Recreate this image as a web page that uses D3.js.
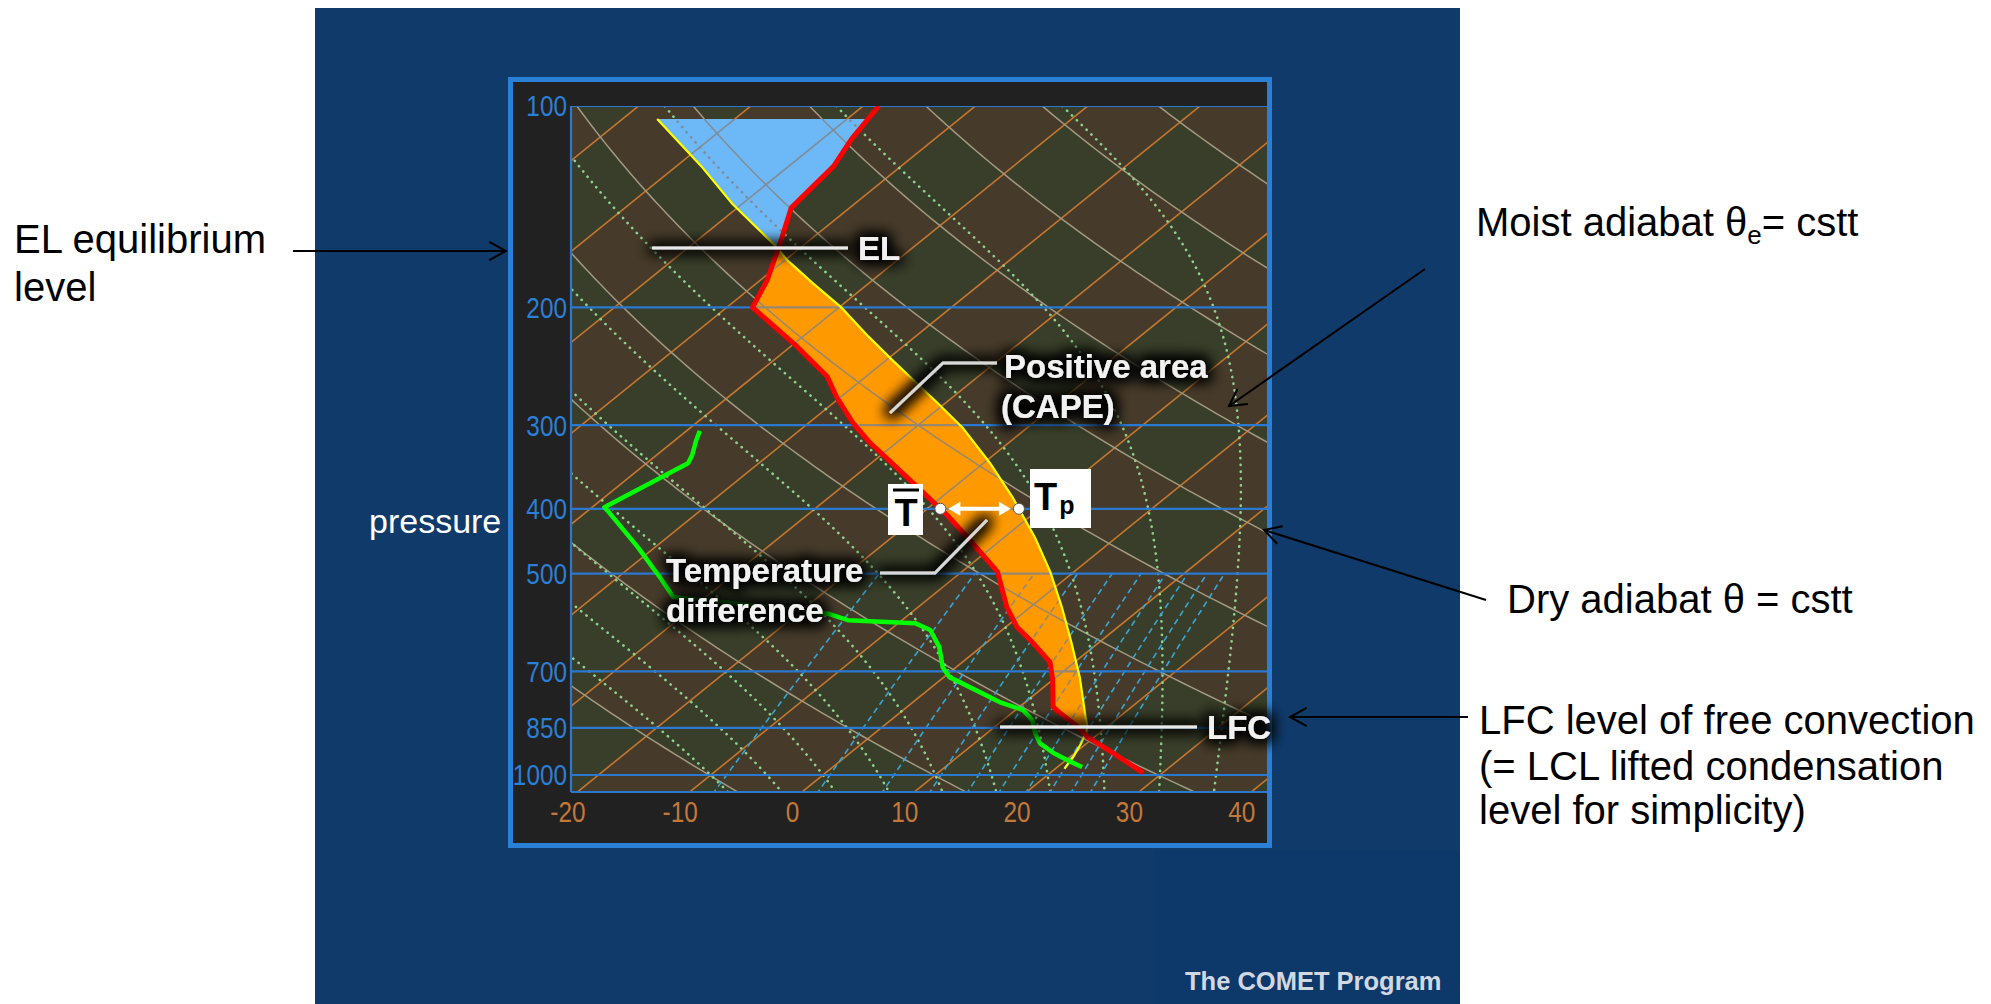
<!DOCTYPE html>
<html><head><meta charset="utf-8">
<script src="https://cdn.jsdelivr.net/npm/d3@7"></script>
<style>
html,body{margin:0;padding:0;background:#fff;}
svg{display:block;font-family:"Liberation Sans",Arial,sans-serif;}
</style></head><body>
<svg id="chart" width="1991" height="1004"></svg>
<script>
// ---------------- data ----------------
const pressureTicks = [100, 200, 300, 400, 500, 700, 850, 1000];
const tempTicks = [-20, -10, 0, 10, 20, 30, 40];
const isotherms = [-110,-100,-90,-80,-70,-60,-50,-40,-30,-20,-10,0,10,20,30,40,50];
const dryThetas = [243,263,283,303,323,343,363,383,403,423,443,463,483];
const moistThetaW = [-10,-5,0,5,10,15,20,25,30,35,40];
const mixRatios = [2,4,6,8,10,12,14,16,18,20];

// environmental temperature (red)
const envP = [100,112,123,142,159,182,200,209,229,254,272,298,319,348,385,409,450,497,561,601,635,678,721,791,808,851,878,927,993];
const envT = [-68.6,-67.4,-66.0,-65.2,-62.5,-59.4,-57.7,-55.0,-49.4,-43.4,-40.4,-36.0,-32.3,-27.1,-21.1,-17.5,-12.2,-6.8,-2.1,1.0,4.2,7.8,10.0,13.0,14.3,17.7,19.4,23.4,28.3];
// lifted parcel (yellow)
const parcelP = [104.6,123,140,162.5,170,184,200,221,240,278,303,342,385,442,497,561,633,714,819,848,896,940,978];
const parcelT = [-86.9,-77.8,-70.9,-62.2,-59.8,-55.0,-49.8,-44.2,-39.4,-30.7,-25.7,-19.4,-13.6,-7.2,-2.1,2.8,7.5,12.1,17.0,18.3,19.5,20.3,20.8];
// dewpoint (green)
const dewP = [306,316,333,342,398,406,456,506,542,574,587,593,607,644,690,714,739,778,800,828,866,896,927,950,973];
const dewT = [-48.8,-48.1,-46.8,-46.3,-48.9,-47.8,-41.6,-36.3,-32.9,-17.3,-14.8,-8.5,-6.4,-3.7,-1.2,0.5,3.4,7.7,10.7,12.6,14.3,15.8,18.1,20.1,22.2];

const elP = 163, lfcP = 848, topAreaP = 104.6, diffP = 400;

// ---------------- geometry ----------------
const PL = 571, PR = 1267, PT = 106, PB = 792;
const yScale = d3.scaleLog().domain([100, 1000]).range([106, 775]);
const xScale = d3.scaleLinear().domain([-20, 40]).range([577.4, 1251.2]); // temperature along bottom edge
const SKEW = 1.235;
const px = (T, p) => xScale(T) + SKEW * (PB - yScale(p));
const py = p => yScale(p);

const svg = d3.select('#chart');
const defs = svg.append('defs');

// glow filter
const f = defs.append('filter').attr('id','glow').attr('x','-40%').attr('y','-60%').attr('width','180%').attr('height','220%');
f.append('feMorphology').attr('in','SourceAlpha').attr('operator','dilate').attr('radius',3).attr('result','d');
f.append('feGaussianBlur').attr('in','d').attr('stdDeviation',7).attr('result','b');
f.append('feFlood').attr('flood-color','#000').attr('flood-opacity',0.95);
f.append('feComposite').attr('in2','b').attr('operator','in').attr('result','s');
const fm = f.append('feMerge');
fm.append('feMergeNode').attr('in','s');
fm.append('feMergeNode').attr('in','s');
fm.append('feMergeNode').attr('in','SourceGraphic');

defs.append('clipPath').attr('id','plotClip').append('rect')
  .attr('x',PL).attr('y',PT).attr('width',PR-PL).attr('height',PB-PT);

// ---------------- page background ----------------
svg.append('rect').attr('x',0).attr('y',0).attr('width',1991).attr('height',1004).attr('fill','#ffffff');
svg.append('rect').attr('x',315).attr('y',8).attr('width',1145).attr('height',996).attr('fill','#0f3a6a');
svg.append('rect').attr('x',1153).attr('y',850).attr('width',307).attr('height',154).attr('fill','#0d386a');

// frame
svg.append('rect').attr('x',510.5).attr('y',79.5).attr('width',759).attr('height',766)
  .attr('fill','#212121').attr('stroke','#2a7fd6').attr('stroke-width',5);

// ---------------- checkerboard background (canvas) ----------------
(function(){
  const w = PR-PL, h = PB-PT;
  const cv = document.createElement('canvas'); cv.width=w; cv.height=h;
  const ctx = cv.getContext('2d');
  const img = ctx.createImageData(w,h);
  const olive=[56,62,41], brown=[70,59,42];
  for (let j=0;j<h;j++){
    const y = PT + j + 0.5;
    const p = yScale.invert(y);
    const fac = Math.pow(p/1000, 0.2857);
    const shift = SKEW*(PB-y);
    for (let i=0;i<w;i++){
      const x = PL + i + 0.5;
      const T = xScale.invert(x - shift);
      const th = (T+273.15)/fac;
      const a = Math.floor(T/10), b = Math.floor((th-263)/20);
      const c = (((a+b)%2)+2)%2 === 0 ? olive : brown;
      const k = (j*w+i)*4;
      img.data[k]=c[0]; img.data[k+1]=c[1]; img.data[k+2]=c[2]; img.data[k+3]=255;
    }
  }
  ctx.putImageData(img,0,0);
  svg.append('image').attr('x',PL).attr('y',PT).attr('width',w).attr('height',h)
    .attr('href', cv.toDataURL());
})();

// ---------------- grid line geometry ----------------
const line = d3.line().x(d=>d[0]).y(d=>d[1]);
const logPs = (p0,p1,n) => d3.range(n+1).map(i => p0*Math.pow(p1/p0, i/n));

function satMix(T,p){ const es = 6.112*Math.exp(17.67*(T-273.15)/(T-29.65)); return 0.622*es/(p-es); }
function dTdp(T,p){
  const rs = satMix(T,p), Lv=2.501e6, Rd=287.04, Cp=1005.7, eps=0.622;
  return (1/p)*(Rd*T + Lv*rs)/(Cp + (Lv*Lv*rs*eps)/(Rd*T*T));
}
function moistCurve(tw){
  const up=[]; let T=tw+273.15, p=1000;
  while (p>100){ up.push([p,T]); const h=-2; const k1=dTdp(T,p); const k2=dTdp(T+0.5*h*k1,p+0.5*h); T+=h*k2; p+=h; }
  up.push([p,T]);
  const down=[]; T=tw+273.15; p=1000;
  while (p<1064){ const h=2; const k1=dTdp(T,p); const k2=dTdp(T+0.5*h*k1,p+0.5*h); T+=h*k2; p+=h; down.push([p,T]); }
  return up.reverse().concat(down).map(d=>[px(d[1]-273.15,d[0]), py(d[0])]);
}
const isoLines = isotherms.map(T => [[px(T,1070),py(1070)],[px(T,95),py(95)]]);
const dryLines = dryThetas.map(th => logPs(1070,95,120).map(p => [px(th*Math.pow(p/1000,0.2857)-273.15,p), py(p)]));
const moistLines = moistThetaW.map(moistCurve);
const mixLines = mixRatios.map(w => logPs(1070,500,60).map(p => {
  const e = w*p/(622+w); const l = Math.log(e/6.112); const Td = 243.5*l/(17.67-l);
  return [px(Td,p), py(p)];
}));

function drawGrid(g, gray){
  g.selectAll('.iso').data(isoLines).join('path').attr('d',line)
    .attr('fill','none').attr('stroke', gray||'#c6772f').attr('stroke-width',1.6);
  g.selectAll('.dry').data(dryLines).join('path').attr('d',line)
    .attr('fill','none').attr('stroke', gray||'#a39880').attr('stroke-width',1.5);
  g.append('g').selectAll('path').data(moistLines).join('path').attr('d',line)
    .attr('fill','none').attr('stroke', gray||'#8ed28e').attr('stroke-width',2.6)
    .attr('stroke-linecap','round').attr('stroke-dasharray','0.2,6.6');
  g.append('g').selectAll('path').data(mixLines).join('path').attr('d',line)
    .attr('fill','none').attr('stroke', gray||'#38a6d4').attr('stroke-width',1.6)
    .attr('stroke-dasharray','6,4');
  g.append('g').selectAll('line').data(pressureTicks).join('line')
    .attr('x1',PL).attr('x2',PR).attr('y1',d=>py(d)).attr('y2',d=>py(d))
    .attr('stroke', gray||'#2a78d0').attr('stroke-width',2.2);
}
const gridG = svg.append('g').attr('clip-path','url(#plotClip)');
drawGrid(gridG.append('g'), null);

// ---------------- filled areas ----------------
function interpT(P,T,p){
  for (let i=0;i<P.length-1;i++){
    const a=P[i], b=P[i+1];
    if ((p>=a && p<=b) || (p<=a && p>=b)){
      const t = (Math.log(p)-Math.log(a))/(Math.log(b)-Math.log(a));
      return T[i]+t*(T[i+1]-T[i]);
    }
  }
  return p<P[0]?T[0]:T[T.length-1];
}
const toXY = (p,T) => [px(T,p), py(p)];
const envPts = envP.map((p,i)=>[p,envT[i]]);
const parPts = parcelP.map((p,i)=>[p,parcelT[i]]);

const posPoly = [toXY(elP, interpT(envP,envT,elP))]
  .concat(envPts.filter(d=>d[0]>elP && d[0]<lfcP).map(d=>toXY(d[0],d[1])))
  .concat([toXY(lfcP, interpT(envP,envT,lfcP)), toXY(lfcP, interpT(parcelP,parcelT,lfcP))])
  .concat(parPts.filter(d=>d[0]>elP && d[0]<lfcP).reverse().map(d=>toXY(d[0],d[1])))
  .concat([toXY(elP, interpT(parcelP,parcelT,elP))]);
const negPoly = parPts.filter(d=>d[0]<=elP).map(d=>toXY(d[0],d[1]))
  .concat([toXY(elP, interpT(parcelP,parcelT,elP)), toXY(elP, interpT(envP,envT,elP))])
  .concat(envPts.filter(d=>d[0]>topAreaP && d[0]<elP).reverse().map(d=>toXY(d[0],d[1])))
  .concat([toXY(topAreaP, interpT(envP,envT,topAreaP))]);

const areaLine = d3.line().x(d=>d[0]).y(d=>d[1]).curve(d3.curveLinearClosed);
svg.append('path').attr('d',areaLine(posPoly)).attr('fill','#ff9900');
svg.append('path').attr('d',areaLine(negPoly)).attr('fill','#6db8f6');

const fc = defs.append('clipPath').attr('id','fillClip');
fc.append('path').attr('d',areaLine(posPoly));
fc.append('path').attr('d',areaLine(negPoly));
const grayG = svg.append('g').attr('clip-path','url(#fillClip)').attr('opacity',0.85);
drawGrid(grayG.append('g'), '#858585');

// plot border
svg.append('line').attr('x1',PL).attr('x2',PL).attr('y1',PT).attr('y2',PB).attr('stroke','#2a78d0').attr('stroke-width',2.2);
svg.append('line').attr('x1',PL).attr('x2',PR).attr('y1',PB).attr('y2',PB).attr('stroke','#2a78d0').attr('stroke-width',2.2);

// ---------------- profiles ----------------
const profLine = d3.line().x(d=>px(d[1],d[0])).y(d=>py(d[0]));
const profG = svg.append('g').attr('clip-path','url(#plotClip)');
profG.append('path').attr('d',profLine(parPts)).attr('fill','none').attr('stroke','#ffff00').attr('stroke-width',2.2);
profG.append('path').attr('d',profLine(dewP.map((p,i)=>[p,dewT[i]]))).attr('fill','none')
  .attr('stroke','#00ff00').attr('stroke-width',4.5).attr('stroke-linejoin','round');
profG.append('path').attr('d',profLine(envPts)).attr('fill','none')
  .attr('stroke','#ff0000').attr('stroke-width',5).attr('stroke-linejoin','round');

// ---------------- axes labels ----------------
const pl = svg.append('g');
pressureTicks.forEach(p=>{
  pl.append('g').attr('transform',`translate(567,${py(p)}) scale(0.84,1)`)
    .append('text').attr('text-anchor','end').attr('dy','0.36em')
    .attr('font-size',29).attr('fill','#2c7fd6').text(p);
});
tempTicks.forEach(T=>{
  pl.append('g').attr('transform',`translate(${xScale(T)-9.5},822) scale(0.84,1)`)
    .append('text').attr('text-anchor','middle')
    .attr('font-size',29).attr('fill','#c47838').text(T);
});

// ---------------- annotations inside ----------------
const ann = svg.append('g').attr('filter','url(#glow)');
const annColor = '#e8e8e8';
const elY = py(elP), lfcY = py(lfcP);
ann.append('line').attr('x1',652).attr('x2',848).attr('y1',elY).attr('y2',elY).attr('stroke',annColor).attr('stroke-width',3);
ann.append('text').attr('x',858).attr('y',elY+12).attr('font-size',33).attr('font-weight','bold').attr('fill','#f2f2f2').text('EL');
ann.append('line').attr('x1',1000).attr('x2',1197).attr('y1',lfcY).attr('y2',lfcY).attr('stroke',annColor).attr('stroke-width',3);
ann.append('text').attr('x',1207).attr('y',lfcY+12).attr('font-size',33).attr('font-weight','bold').attr('fill','#f2f2f2').text('LFC');
ann.append('polyline').attr('points','997,363 943,363 890,413').attr('fill','none').attr('stroke','#d8d8d8').attr('stroke-width',3);
ann.append('text').attr('x',1004).attr('y',378).attr('font-size',33).attr('font-weight','bold').attr('fill','#f2f2f2').text('Positive area');
ann.append('text').attr('x',1001).attr('y',418).attr('font-size',33).attr('font-weight','bold').attr('fill','#f2f2f2').text('(CAPE)');
ann.append('polyline').attr('points','880,573 935,573 987,520').attr('fill','none').attr('stroke','#d8d8d8').attr('stroke-width',3);
ann.append('text').attr('x',666).attr('y',582).attr('font-size',33).attr('font-weight','bold').attr('fill','#f2f2f2').text('Temperature');
ann.append('text').attr('x',666).attr('y',622).attr('font-size',33).attr('font-weight','bold').attr('fill','#f2f2f2').text('difference');

// temperature difference arrow at 400 hPa
const yD = py(diffP);
const xTbar = px(interpT(envP,envT,diffP), diffP), xTp = px(interpT(parcelP,parcelT,diffP), diffP);
svg.append('line').attr('x1',xTbar+14).attr('x2',xTp-14).attr('y1',yD).attr('y2',yD).attr('stroke','#ffffff').attr('stroke-width',4);
svg.append('path').attr('d',`M${xTbar+8},${yD} L${xTbar+20},${yD-7} L${xTbar+20},${yD+7} Z`).attr('fill','#fff');
svg.append('path').attr('d',`M${xTp-8},${yD} L${xTp-20},${yD-7} L${xTp-20},${yD+7} Z`).attr('fill','#fff');
[xTbar,xTp].forEach(x=>svg.append('circle').attr('cx',x).attr('cy',yD).attr('r',5.5).attr('fill','#fff').attr('stroke','#555').attr('stroke-width',1));

// T-bar box
svg.append('rect').attr('x',888).attr('y',484).attr('width',35).attr('height',51).attr('fill','#fff');
svg.append('text').attr('x',906).attr('y',526).attr('text-anchor','middle').attr('font-size',38).attr('font-weight','bold').attr('fill','#000').text('T');
svg.append('line').attr('x1',893).attr('x2',919).attr('y1',490).attr('y2',490).attr('stroke','#000').attr('stroke-width',3);
// Tp box
svg.append('rect').attr('x',1030).attr('y',469).attr('width',61).attr('height',59).attr('fill','#fff');
const tp = svg.append('text').attr('x',1034).attr('y',510).attr('font-weight','bold').attr('fill','#000');
tp.append('tspan').attr('font-size',38).text('T');
tp.append('tspan').attr('font-size',25).attr('dx',2).attr('dy',4).text('p');

// ---------------- outside labels ----------------
svg.append('text').attr('x',1185).attr('y',990).attr('font-size',25.5).attr('font-weight','bold').attr('fill','#d2d8e2').text('The COMET Program');
svg.append('text').attr('x',369).attr('y',533).attr('font-size',34).attr('fill','#ffffff').text('pressure');

const out = svg.append('g').attr('font-size',40).attr('fill','#000');
out.append('text').attr('x',14).attr('y',253).text('EL equilibrium');
out.append('text').attr('x',14).attr('y',301).text('level');
const ma = out.append('text').attr('x',1476).attr('y',236);
ma.append('tspan').text('Moist adiabat θ');
ma.append('tspan').attr('font-size',26).attr('dy',8).text('e');
ma.append('tspan').attr('dy',-8).text('= cstt');
out.append('text').attr('x',1507).attr('y',613).text('Dry adiabat θ = cstt');
out.append('text').attr('x',1479).attr('y',734).text('LFC level of free convection');
out.append('text').attr('x',1479).attr('y',780).text('(= LCL lifted condensation');
out.append('text').attr('x',1479).attr('y',824).text('level for simplicity)');

function arrow(x1,y1,x2,y2){
  svg.append('line').attr('x1',x1).attr('y1',y1).attr('x2',x2).attr('y2',y2).attr('stroke','#000').attr('stroke-width',2);
  const a = Math.atan2(y2-y1,x2-x1), L=19, h=0.5;
  const p1=[x2-L*Math.cos(a-h), y2-L*Math.sin(a-h)], p2=[x2-L*Math.cos(a+h), y2-L*Math.sin(a+h)];
  svg.append('polyline').attr('points',`${p1} ${x2},${y2} ${p2}`).attr('fill','none').attr('stroke','#000').attr('stroke-width',2);
}
arrow(293,251,506,251);
arrow(1425,269,1229,406);
arrow(1486,600,1264,530);
arrow(1468,717,1290,717);
</script></body></html>
